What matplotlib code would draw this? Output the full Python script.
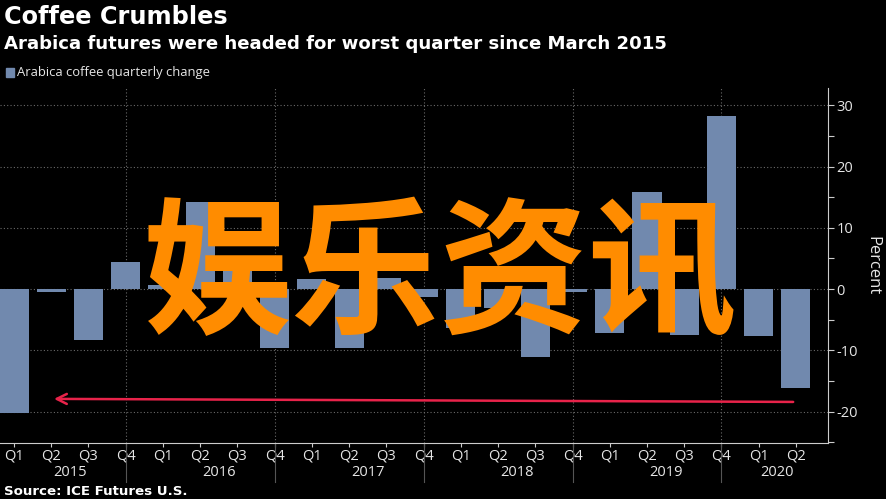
import matplotlib
matplotlib.use("Agg")
import matplotlib.pyplot as plt
import matplotlib.transforms as mtransforms
import numpy as np

# quarterly % change of arabica coffee futures, Q1 2015 .. Q2 2020
quarters = ["Q1", "Q2", "Q3", "Q4"] * 5 + ["Q1", "Q2"]
years = ["2015", "2016", "2017", "2018", "2019", "2020"]
changes = [-20.2, -0.4, -8.3, 4.4,
           0.6, 14.2, 3.5, -9.6,
           1.6, -9.6, 1.8, -1.3,
           -6.4, -3.1, -11.0, -0.5,
           -7.2, 15.8, -7.5, 28.2,
           -7.7, -16.2]
arrow_start = (21, -18.4)
arrow_end = (1, -17.9)

bg = "black"
bar_color = "#7189ae"
txt = "#e6e6e6"
grid_c = "#6a6a6a"

fig = plt.figure(figsize=(8.86, 4.99), dpi=100, facecolor=bg)
ax = fig.add_axes([0.0, 0.1122, 0.9345, 0.7114], facecolor=bg)

x = np.arange(len(changes))
ax.bar(x, changes, width=0.78, color=bar_color, zorder=2)

ax.set_xlim(-0.376, 21.86)
ax.set_ylim(-25.1, 32.8)

# grid
for v in [-20, -10, 0, 10, 20, 30]:
    ax.axhline(v, color=grid_c, lw=0.8, ls=(0, (1, 2)), zorder=1)
trans = mtransforms.blended_transform_factory(ax.transData, ax.transAxes)
for i, q in enumerate(quarters):
    if q == "Q4":
        ax.plot([i, i], [0, 1], transform=trans, color=grid_c, lw=0.8,
                ls=(0, (1, 2)), zorder=1)
        ax.plot([i, i], [0, -0.11], transform=trans, color="#555555", lw=0.8,
                clip_on=False)

# spines
for s in ["left", "top"]:
    ax.spines[s].set_visible(False)
ax.spines["right"].set_color("#cccccc")
ax.spines["bottom"].set_color("#cccccc")

# y axis on right
ax.yaxis.tick_right()
ax.set_yticks([-20, -10, 0, 10, 20, 30])
ax.set_yticks([-25, -15, -5, 5, 15, 25], minor=True)
ax.tick_params(axis="y", which="both", colors="#cccccc", labelcolor=txt,
               labelsize=10.5, length=4, width=0.8, pad=2)
ax.set_yticklabels(["-20", "-10", "0", "10", "20", "30"], family="Open Sans")
ax.yaxis.set_label_position("right")
ax.set_ylabel("Percent", rotation=270, color=txt, fontsize=12,
              family="Open Sans", labelpad=16)

# x axis
ax.set_xticks(x)
ax.set_xticklabels(quarters, family="Open Sans")
ax.tick_params(axis="x", colors="#cccccc", labelcolor=txt, labelsize=10.5,
               length=3, width=0.8, pad=1)
year_pos = [1.5, 5.5, 9.5, 13.5, 17.5, 20.5]
for xp, yr in zip(year_pos, years):
    ax.text(xp, -0.062, yr, transform=trans, ha="center", va="top",
            color=txt, fontsize=10.5, family="Open Sans")

# red arrow
ax.annotate("", xy=arrow_end, xytext=arrow_start,
            arrowprops=dict(arrowstyle="->", color="#e8234a", lw=1.8,
                            mutation_scale=18), zorder=4)

# titles
fig.text(0.004, 0.965, "Coffee Crumbles", color="white", fontsize=17.3,
         fontweight="bold", family="DejaVu Sans", va="center", ha="left")
fig.text(0.004, 0.911, "Arabica futures were headed for worst quarter since March 2015",
         color="white", fontsize=13.1, fontweight="bold", family="DejaVu Sans",
         va="center", ha="left")
fig.patches.append(plt.Rectangle((0.007, 0.846), 0.009, 0.018, transform=fig.transFigure,
                                 color=bar_color, figure=fig))
fig.text(0.019, 0.855, "Arabica coffee quarterly change", color=txt,
         fontsize=9.4, family="Open Sans", va="center", ha="left")
fig.text(0.004, 0.016, "Source: ICE Futures U.S.", color="white", fontsize=9.6,
         fontweight="bold", family="DejaVu Sans", va="center", ha="left")

# watermark
fig.text(0.497, 0.44, "娱乐资讯", color="#ff8c00", fontsize=107,
         fontweight="bold", family=["Noto Sans CJK SC", "DejaVu Sans"],
         va="center", ha="center", zorder=10)

fig.savefig("out.png", dpi=100, facecolor=bg)
